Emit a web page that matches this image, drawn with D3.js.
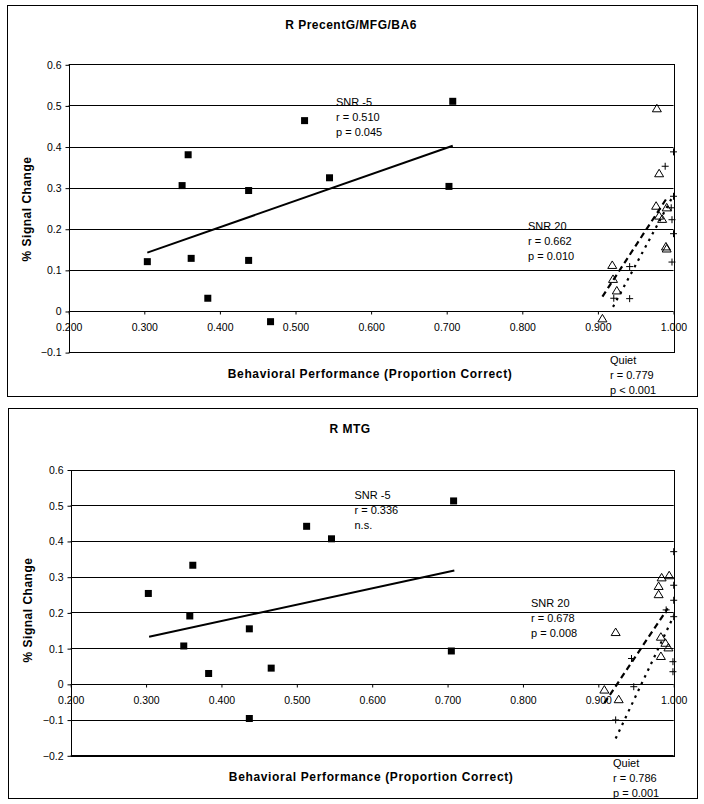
<!DOCTYPE html>
<html>
<head>
<meta charset="utf-8">
<script src="https://cdn.jsdelivr.net/npm/d3@7"></script>
<style>
  body { margin: 0; background: #fff; }
  svg { display: block; font-family: "Liberation Sans", Arial, sans-serif; }
</style>
</head>
<body>
<svg id="chart" width="704" height="804"></svg>
<script>
// shared x axis
var xTicks = [0.2, 0.3, 0.4, 0.5, 0.6, 0.7, 0.8, 0.9, 1.0];
var xTitle = "Behavioral Performance (Proportion Correct)";
var yTitle = "% Signal Change";

// top panel: R PrecentG/MFG/BA6
var topTitle = "R PrecentG/MFG/BA6";
var topYTicks = [-0.1, 0, 0.1, 0.2, 0.3, 0.4, 0.5, 0.6];
var topSnr5 = [[0.304, 0.120], [0.358, 0.380], [0.350, 0.305], [0.362, 0.128], [0.384, 0.031], [0.438, 0.293],
               [0.438, 0.123], [0.467, -0.026], [0.512, 0.463], [0.545, 0.324], [0.703, 0.303], [0.708, 0.510]];
var topSnr20 = [[0.978, 0.493], [0.981, 0.335], [0.977, 0.256], [0.991, 0.252], [0.981, 0.232], [0.985, 0.224],
                [0.990, 0.157], [0.991, 0.152], [0.919, 0.112], [0.920, 0.078], [0.925, 0.050], [0.906, -0.018]];
var topQuiet = [[1.000, 0.387], [0.989, 0.352], [1.000, 0.279], [0.997, 0.251], [0.998, 0.222], [1.000, 0.188],
                [0.998, 0.119], [0.942, 0.108], [0.921, 0.031], [0.942, 0.030]];
var topFitSnr5 = [[0.304, 0.142], [0.708, 0.402]];
var topFitSnr20 = [[0.906, 0.035], [0.992, 0.277]];
var topFitQuiet = [[0.920, 0.010], [1.000, 0.282]];
var topStats = [["SNR -5", "r = 0.510", "p = 0.045"],
                ["SNR 20", "r = 0.662", "p = 0.010"],
                ["Quiet", "r = 0.779", "p < 0.001"]];

// bottom panel: R MTG
var botTitle = "R MTG";
var botYTicks = [-0.2, -0.1, 0, 0.1, 0.2, 0.3, 0.4, 0.5, 0.6];
var botSnr5 = [[0.303, 0.253], [0.362, 0.332], [0.358, 0.190], [0.350, 0.106], [0.383, 0.029], [0.437, 0.154],
               [0.437, -0.097], [0.466, 0.044], [0.513, 0.441], [0.546, 0.406], [0.705, 0.092], [0.708, 0.512]];
var botSnr20 = [[0.994, 0.304], [0.984, 0.298], [0.980, 0.274], [0.980, 0.251], [0.923, 0.145], [0.983, 0.132],
                [0.989, 0.115], [0.993, 0.102], [0.983, 0.078], [0.908, -0.016], [0.927, -0.043]];
var botQuiet = [[1.000, 0.370], [1.000, 0.276], [1.000, 0.234], [1.000, 0.188], [0.990, 0.207], [0.999, 0.062],
                [0.999, 0.034], [0.944, 0.071], [0.947, -0.008], [0.923, -0.101]];
var botFitSnr5 = [[0.304, 0.132], [0.709, 0.317]];
var botFitSnr20 = [[0.908, -0.054], [0.992, 0.211]];
var botFitQuiet = [[0.923, -0.153], [1.000, 0.190]];
var botStats = [["SNR -5", "r = 0.336", "n.s."],
                ["SNR 20", "r = 0.678", "p = 0.008"],
                ["Quiet", "r = 0.786", "p = 0.001"]];

var svg = d3.select("#chart");

function drawPanel(p) {
  var g = svg.append("g");

  // outer chart border
  g.append("rect")
    .attr("x", p.frame[0]).attr("y", p.frame[1])
    .attr("width", p.frame[2]).attr("height", p.frame[3])
    .attr("fill", "#fff").attr("stroke", "#000").attr("stroke-width", 1);

  var x = d3.scaleLinear().domain([0.2, 1.0]).range([p.left, p.right]);
  var y = d3.scaleLinear().domain(p.yDomain).range([p.bottom, p.top]);

  // gridlines
  g.selectAll(".grid").data(p.yTicks).enter().append("line")
    .attr("x1", p.left).attr("x2", p.right)
    .attr("y1", function(d) { return Math.round(y(d)) + 0.5; })
    .attr("y2", function(d) { return Math.round(y(d)) + 0.5; })
    .attr("stroke", "#000").attr("stroke-width", 1);

  // plot area border
  g.append("rect")
    .attr("x", Math.round(p.left) + 0.5).attr("y", Math.round(p.top) + 0.5)
    .attr("width", Math.round(p.right - p.left)).attr("height", Math.round(p.bottom - p.top))
    .attr("fill", "none").attr("stroke", "#000").attr("stroke-width", 1);

  // y axis
  var yAxis = d3.axisLeft(y).tickValues(p.yTicks).tickSize(4).tickPadding(4)
    .tickFormat(function(d) { return d === 0 ? "0" : d3.format(".1f")(d); });
  var ya = g.append("g").attr("transform", "translate(" + (Math.round(p.left) + 0.5) + ",0.5)").call(yAxis);
  ya.select(".domain").remove();
  ya.selectAll("text").attr("font-size", 10.5).attr("fill", "#000");
  ya.selectAll("line").attr("stroke", "#000");

  // x axis crossing at zero
  var zeroY = Math.round(y(0)) + 0.5;
  var xAxis = d3.axisBottom(x).tickValues(xTicks).tickSize(3).tickPadding(9)
    .tickFormat(d3.format(".3f"));
  var xa = g.append("g").attr("transform", "translate(0," + zeroY + ")").call(xAxis);
  xa.select(".domain").remove();
  xa.selectAll("text").attr("font-size", 10.5).attr("fill", "#000");
  xa.selectAll("line").attr("stroke", "#000");

  // trend lines
  var line = d3.line().x(function(d) { return x(d[0]); }).y(function(d) { return y(d[1]); });
  g.append("path").attr("d", line(p.fitSnr5))
    .attr("fill", "none").attr("stroke", "#000").attr("stroke-width", 2);
  g.append("path").attr("d", line(p.fitSnr20))
    .attr("fill", "none").attr("stroke", "#000").attr("stroke-width", 2.2)
    .attr("stroke-dasharray", "6,4");
  g.append("path").attr("d", line(p.fitQuiet))
    .attr("fill", "none").attr("stroke", "#000").attr("stroke-width", 2.2)
    .attr("stroke-dasharray", "2.5,5");

  // SNR -5 squares
  g.selectAll(".sq").data(p.snr5).enter().append("rect")
    .attr("x", function(d) { return x(d[0]) - 3.5; })
    .attr("y", function(d) { return y(d[1]) - 3.5; })
    .attr("width", 7).attr("height", 7).attr("fill", "#000");

  // SNR 20 triangles
  g.selectAll(".tri").data(p.snr20).enter().append("path")
    .attr("d", "M0,-4L4.5,3.5L-4.5,3.5Z")
    .attr("transform", function(d) { return "translate(" + x(d[0]) + "," + y(d[1]) + ")"; })
    .attr("fill", "none").attr("stroke", "#000").attr("stroke-width", 1);

  // Quiet pluses
  g.selectAll(".plus").data(p.quiet).enter().append("path")
    .attr("d", "M-3.5,0H3.5M0,-3.5V3.5")
    .attr("transform", function(d) { return "translate(" + x(d[0]) + "," + y(d[1]) + ")"; })
    .attr("fill", "none").attr("stroke", "#000").attr("stroke-width", 1);

  // titles
  g.append("text").attr("x", p.titleX).attr("y", p.titleY)
    .attr("text-anchor", "middle").attr("font-size", 12).attr("font-weight", "bold")
    .attr("letter-spacing", 0.5)
    .text(p.title);
  g.append("text").attr("x", (p.left + p.right) / 2 - 1).attr("y", p.xTitleY)
    .attr("text-anchor", "middle").attr("font-size", 12).attr("font-weight", "bold")
    .attr("letter-spacing", 0.65)
    .text(xTitle);
  g.append("text")
    .attr("transform", "translate(" + p.yTitleX + "," + p.yTitleY + ") rotate(-90)")
    .attr("text-anchor", "middle").attr("font-size", 12).attr("font-weight", "bold")
    .attr("letter-spacing", 0.5)
    .text(yTitle);

  // stats labels
  p.stats.forEach(function(s, i) {
    var pos = p.statPos[i];
    s.forEach(function(t, j) {
      g.append("text").attr("x", pos[0]).attr("y", pos[1] + j * 15)
        .attr("font-size", 11).attr("fill", "#000").text(t);
    });
  });
}

drawPanel({
  frame: [7.5, 5.5, 690, 391],
  left: 68.7, right: 673.5, top: 64.3, bottom: 352.1,
  yDomain: [-0.1, 0.6], yTicks: topYTicks,
  snr5: topSnr5, snr20: topSnr20, quiet: topQuiet,
  fitSnr5: topFitSnr5, fitSnr20: topFitSnr20, fitQuiet: topFitQuiet,
  title: topTitle, titleX: 351, titleY: 29,
  xTitleY: 378, yTitleX: 31, yTitleY: 209,
  stats: topStats, statPos: [[336, 106], [528, 229.5], [610, 364]]
});

drawPanel({
  frame: [8.5, 408.5, 689, 390],
  left: 70.7, right: 673.7, top: 469.5, bottom: 755.3,
  yDomain: [-0.2, 0.6], yTicks: botYTicks,
  snr5: botSnr5, snr20: botSnr20, quiet: botQuiet,
  fitSnr5: botFitSnr5, fitSnr20: botFitSnr20, fitQuiet: botFitQuiet,
  title: botTitle, titleX: 350, titleY: 433,
  xTitleY: 781, yTitleX: 32, yTitleY: 610,
  stats: botStats, statPos: [[354.5, 499], [531, 606.5], [613, 767]]
});
</script>
</body>
</html>
